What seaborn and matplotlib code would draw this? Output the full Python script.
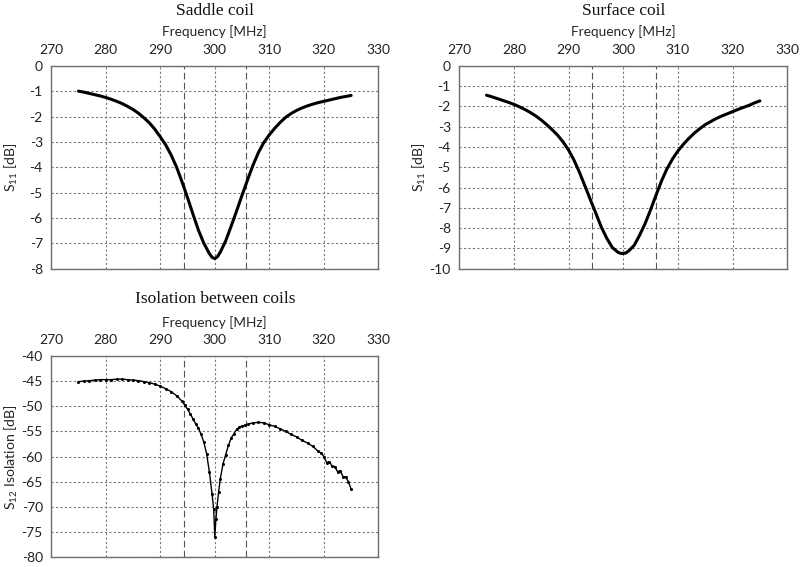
import numpy as np
import pandas as pd
import matplotlib
matplotlib.use('Agg')
import matplotlib.pyplot as plt
import seaborn as sns

# Saddle coil S11 [dB]
saddle_freq = [275, 276, 277, 278, 279, 280, 281, 282, 283, 284, 285, 286, 287, 288, 289,
               290, 291, 292, 293, 294, 295, 296, 297, 298, 299, 299.5, 300, 300.5, 301,
               302, 303, 304, 305, 306, 307, 308, 309, 310, 311, 312, 313, 314, 315, 316,
               317, 318, 319, 320, 321, 322, 323, 324, 325]
saddle_s11 = [-1.00, -1.04, -1.09, -1.14, -1.19, -1.25, -1.32, -1.40, -1.49, -1.60, -1.72,
              -1.87, -2.05, -2.25, -2.50, -2.80, -3.12, -3.52, -4.00, -4.58, -5.20, -5.85,
              -6.48, -7.00, -7.40, -7.55, -7.60, -7.52, -7.35, -6.90, -6.32, -5.72, -5.10,
              -4.50, -3.92, -3.42, -3.02, -2.72, -2.46, -2.23, -2.03, -1.88, -1.76, -1.66,
              -1.58, -1.51, -1.45, -1.40, -1.35, -1.30, -1.25, -1.21, -1.17]

# Surface coil S11 [dB]
surface_freq = [275, 276, 277, 278, 279, 280, 281, 282, 283, 284, 285, 286, 287, 288, 289,
                290, 291, 292, 293, 294, 295, 296, 297, 298, 299, 299.5, 300, 300.5, 301,
                302, 303, 304, 305, 306, 307, 308, 309, 310, 311, 312, 313, 314, 315, 316,
                317, 318, 319, 320, 321, 322, 323, 324, 325]
surface_s11 = [-1.45, -1.53, -1.62, -1.71, -1.80, -1.90, -2.02, -2.15, -2.30, -2.47, -2.67,
               -2.90, -3.15, -3.42, -3.75, -4.15, -4.65, -5.25, -5.92, -6.60, -7.27, -7.95,
               -8.50, -8.95, -9.18, -9.24, -9.25, -9.22, -9.12, -8.85, -8.35, -7.78, -7.10,
               -6.38, -5.68, -5.08, -4.60, -4.20, -3.87, -3.58, -3.32, -3.10, -2.90, -2.75,
               -2.60, -2.48, -2.37, -2.26, -2.15, -2.05, -1.95, -1.83, -1.73]

# Isolation S12 [dB]
iso_freq = [275, 276, 277, 278, 279, 280, 281, 282, 283, 284, 285, 286, 287, 288, 289, 290,
            291, 292, 293, 294, 294.5, 295, 295.5, 296, 296.5, 297, 297.5, 298, 298.5, 299,
            299.5, 299.8, 300.0, 300.2, 300.4, 300.7, 301.0, 301.5, 302.0, 302.5, 303.0,
            303.5, 304.0, 304.5, 305.0, 305.5, 306, 307, 308, 309, 310, 311, 312, 313, 314,
            315, 316, 317, 318, 319, 319.5, 320, 320.5, 321, 321.5, 322, 322.5, 323, 323.5,
            324, 324.5, 325]
iso_s12 = [-45.1, -45.0, -44.9, -44.8, -44.7, -44.7, -44.7, -44.6, -44.6, -44.7, -44.8,
           -44.9, -45.1, -45.3, -45.6, -46.0, -46.5, -47.1, -47.9, -49.0, -49.8, -50.6,
           -51.5, -52.5, -53.5, -54.4, -55.6, -57.2, -59.5, -63.0, -67.5, -70.5, -76.0,
           -72.5, -70.0, -67.0, -64.5, -61.5, -59.6, -57.8, -56.3, -55.5, -54.6, -54.2,
           -53.9, -53.8, -53.6, -53.3, -53.2, -53.3, -53.7, -54.0, -54.5, -55.0, -55.6,
           -56.1, -56.8, -57.3, -58.0, -59.0, -59.3, -60.0, -61.2, -61.0, -61.9, -62.0,
           -63.0, -62.8, -64.0, -64.1, -65.0, -66.5]

freq_ticks = [270, 280, 290, 300, 310, 320, 330]
band_edges = [[294.3, 305.7], [294.3, 306.0], [294.3, 305.7]]

sns.set_theme(style='white')
plt.rcParams['font.family'] = ['Lato', 'DejaVu Sans']
plt.rcParams['axes.unicode_minus'] = False
plt.rcParams['mathtext.fontset'] = 'custom'
plt.rcParams['mathtext.rm'] = 'Lato'
plt.rcParams['mathtext.it'] = 'Lato'

H = 567.0
fig = plt.figure(figsize=(8, 5.67), dpi=100)
ax1 = fig.add_axes([0.064, 0.526, 0.409, 0.358])
ax2 = fig.add_axes([0.574, 0.526, 0.410, 0.358])
ax3 = fig.add_axes([0.064, 0.0176, 0.409, 0.3545])

# (axes, x, y, title, ylabel, ylim, ystep, band index, dotted markers,
#  title y px, freq label y px)
panels = [
    (ax1, saddle_freq, saddle_s11, 'Saddle coil', 'S$_{11}$ [dB]', (-8, 0), 1, 0, False, 11, 32),
    (ax2, surface_freq, surface_s11, 'Surface coil', 'S$_{11}$ [dB]', (-10, 0), 1, 1, False, 11, 32),
    (ax3, iso_freq, iso_s12, 'Isolation between coils', 'S$_{12}$ Isolation [dB]', (-80, -40), 5, 2, True, 299, 323),
]

for ax, fx, fy, title, ylab, ylim, ystep, k, dots, ty, fy_px in panels:
    df = pd.DataFrame({'f': fx, 'v': fy})
    ax.set_xlim(270, 330)
    ax.set_ylim(*ylim)
    ax.set_xticks(freq_ticks)
    ax.set_yticks(np.arange(ylim[0], ylim[1] + ystep / 2, ystep))
    ax.grid(True, color='#7a7a7a', linestyle=(0, (2, 2)), linewidth=0.8)
    for xv in band_edges[k]:
        ax.axvline(xv, color='#555555', linestyle=(0, (6, 3)), linewidth=0.8)
    if dots:
        sns.lineplot(data=df, x='f', y='v', ax=ax, color='black', linewidth=1.0,
                     marker='o', markersize=2.2, markeredgewidth=0)
    else:
        sns.lineplot(data=df, x='f', y='v', ax=ax, color='black', linewidth=2.2)
    ax.xaxis.tick_top()
    ax.xaxis.set_label_position('top')
    ax.set_xlabel('Frequency [MHz]', fontsize=9.8, va='center')
    ax.set_ylabel(ylab, fontsize=10.2)
    ax.tick_params(axis='x', length=0, labelsize=10, pad=7, colors='#222222')
    ax.tick_params(axis='y', length=0, labelsize=10, pad=6, colors='#222222')
    for sp in ax.spines.values():
        sp.set_color('#6e6e6e')
        sp.set_linewidth(1.0)
    pos = ax.get_position()
    ax_top_px = (1 - pos.y1) * H
    ax_h_px = pos.height * H
    ax.xaxis.set_label_coords(0.5, 1 + (ax_top_px - fy_px) / ax_h_px)
    ax.yaxis.set_label_coords(-0.095, 0.5)
    fig.text((pos.x0 + pos.x1) / 2, 1 - ty / H, title, fontsize=12.5, family='Liberation Serif',
             ha='center', va='center', color='#111111')

fig.savefig('out.png', dpi=100)
